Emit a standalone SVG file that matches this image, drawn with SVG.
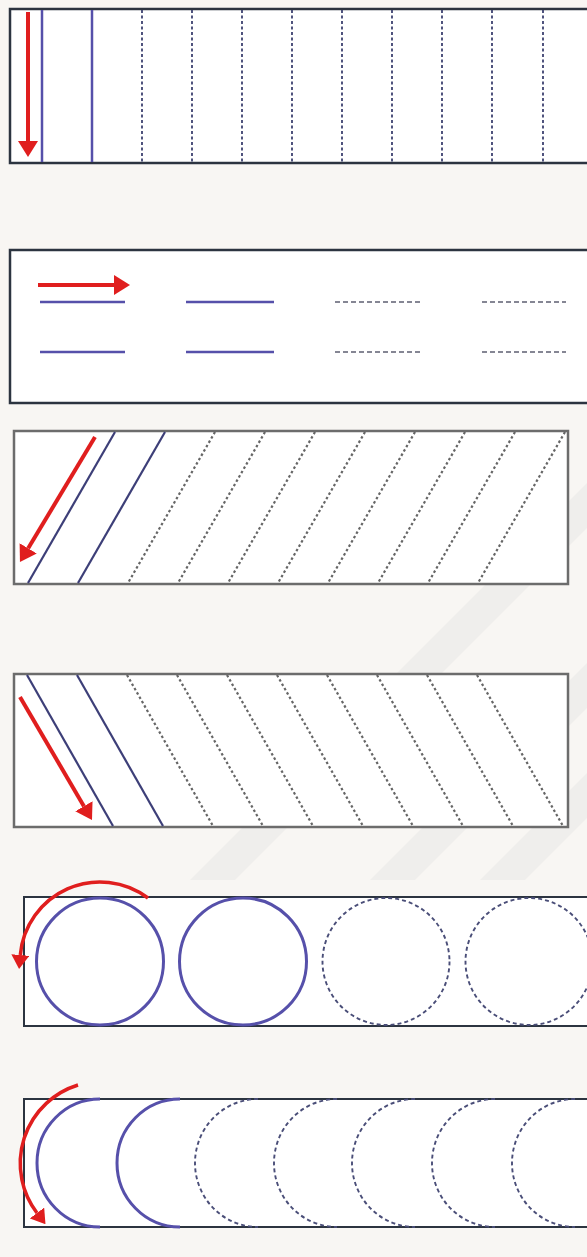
<svg xmlns="http://www.w3.org/2000/svg" width="587" height="1257" viewBox="0 0 587 1257">
<style>
.bg{fill:#f8f6f3}
.wm{fill:#efeeec}
.box{fill:#ffffff;stroke:#2c3440;stroke-width:2.5}
.box2{fill:#ffffff;stroke:#6c6c6c;stroke-width:2.5}
.box3{fill:#ffffff;stroke:#2c3440;stroke-width:2}
.solid{stroke:#5650aa;stroke-width:2.5;fill:none}
.dash1{stroke:#3d4270;stroke-width:1.8;stroke-dasharray:3 2.5;fill:none}
.dash2{stroke:#5e5f72;stroke-width:1.6;stroke-dasharray:5 3;fill:none}
.diag{stroke:#3d3f78;stroke-width:2.2;fill:none}
.dot{stroke:#666666;stroke-width:2.2;stroke-dasharray:2.5 2.5;fill:none}
.dash3{stroke:#4a4e78;stroke-width:1.9;stroke-dasharray:4 3;fill:none}
.solidc{stroke:#5650aa;stroke-width:3;fill:none}
.red{stroke:#e01e1e;stroke-width:4;fill:none;marker-end:url(#ah)}
.redc{stroke:#e01e1e;stroke-width:3.5;fill:none;marker-end:url(#ah2)}
</style>
<defs>
<marker id="ah" markerUnits="userSpaceOnUse" markerWidth="16" markerHeight="20" viewBox="0 0 16 20" refX="0" refY="10" orient="auto">
<path d="M0,0 L16,10 L0,20 z" fill="#e01e1e"/>
</marker>
<marker id="ah2" markerUnits="userSpaceOnUse" markerWidth="14" markerHeight="18" viewBox="0 0 14 18" refX="0" refY="9" orient="auto">
<path d="M0,0 L14,9 L0,18 z" fill="#e01e1e"/>
</marker>
</defs>
<rect class="bg" x="0" y="0" width="587" height="1257"/>
<g id="watermark">
<polygon class="wm" points="190,880 235,880 587,528 587,483"/>
<polygon class="wm" points="370,880 415,880 587,708 587,663"/>
<polygon class="wm" points="480,880 525,880 587,818 587,773"/>
</g>

<g id="panel1">
<rect class="box" x="10" y="9" width="600" height="154"/>
<line class="solid" x1="42" y1="10" x2="42" y2="162"/>
<line class="solid" x1="92" y1="10" x2="92" y2="162"/>
<g class="dash1">
<line x1="142" y1="10" x2="142" y2="162"/>
<line x1="192" y1="10" x2="192" y2="162"/>
<line x1="242" y1="10" x2="242" y2="162"/>
<line x1="292" y1="10" x2="292" y2="162"/>
<line x1="342" y1="10" x2="342" y2="162"/>
<line x1="392" y1="10" x2="392" y2="162"/>
<line x1="442" y1="10" x2="442" y2="162"/>
<line x1="492" y1="10" x2="492" y2="162"/>
<line x1="543" y1="10" x2="543" y2="162"/>
</g>
</g>

<g id="panel2">
<rect class="box" x="10" y="250" width="600" height="153"/>
<line class="solid" x1="40" y1="302" x2="125" y2="302"/>
<line class="solid" x1="186" y1="302" x2="274" y2="302"/>
<line class="solid" x1="40" y1="352" x2="125" y2="352"/>
<line class="solid" x1="186" y1="352" x2="274" y2="352"/>
<line class="dash2" x1="335" y1="302" x2="420" y2="302"/>
<line class="dash2" x1="482" y1="302" x2="566" y2="302"/>
<line class="dash2" x1="335" y1="352" x2="420" y2="352"/>
<line class="dash2" x1="482" y1="352" x2="566" y2="352"/>
</g>

<g id="panel3">
<rect class="box2" x="14" y="431" width="554" height="153"/>
<line class="diag" x1="115" y1="432" x2="28" y2="583"/>
<line class="diag" x1="165" y1="432" x2="78" y2="583"/>
<g class="dot">
<line x1="215" y1="432" x2="128" y2="583"/>
<line x1="265" y1="432" x2="178" y2="583"/>
<line x1="315" y1="432" x2="228" y2="583"/>
<line x1="365" y1="432" x2="278" y2="583"/>
<line x1="415" y1="432" x2="328" y2="583"/>
<line x1="465" y1="432" x2="378" y2="583"/>
<line x1="515" y1="432" x2="428" y2="583"/>
<line x1="565" y1="432" x2="478" y2="583"/>
</g>
</g>

<g id="panel4">
<rect class="box2" x="14" y="674" width="554" height="153"/>
<line class="diag" x1="27" y1="675" x2="113" y2="826"/>
<line class="diag" x1="77" y1="675" x2="163" y2="826"/>
<g class="dot">
<line x1="127" y1="675" x2="213" y2="826"/>
<line x1="177" y1="675" x2="263" y2="826"/>
<line x1="227" y1="675" x2="313" y2="826"/>
<line x1="277" y1="675" x2="363" y2="826"/>
<line x1="327" y1="675" x2="413" y2="826"/>
<line x1="377" y1="675" x2="463" y2="826"/>
<line x1="427" y1="675" x2="513" y2="826"/>
<line x1="477" y1="675" x2="563" y2="826"/>
</g>
</g>

<g id="panel5">
<rect class="box3" x="24" y="897" width="600" height="129"/>
<circle class="solidc" cx="100" cy="961.5" r="63.5"/>
<circle class="solidc" cx="243" cy="961.5" r="63.5"/>
<circle class="dash3" cx="386" cy="961.5" r="63.5"/>
<circle class="dash3" cx="529" cy="961.5" r="63.5"/>
</g>

<g id="panel6">
<rect class="box3" x="24" y="1099" width="600" height="128"/>
<path class="solidc" d="M100,1099 A63,64 0 0 0 100,1227"/>
<path class="solidc" d="M180,1099 A63,64 0 0 0 180,1227"/>
<path class="dash3" d="M258,1099 A63,64 0 0 0 258,1227"/>
<path class="dash3" d="M337,1099 A63,64 0 0 0 337,1227"/>
<path class="dash3" d="M415,1099 A63,64 0 0 0 415,1227"/>
<path class="dash3" d="M495,1099 A63,64 0 0 0 495,1227"/>
<path class="dash3" d="M575,1099 A63,64 0 0 0 575,1227"/>
</g>

<g id="connectors">
<line class="red" x1="28" y1="12" x2="28" y2="141"/>
<line class="red" x1="38" y1="285" x2="114" y2="285"/>
<line class="red" x1="95" y1="437" x2="28.2" y2="548.3"/>
<line class="red" x1="20" y1="697" x2="83.9" y2="806.2"/>
<path class="redc" d="M148,898 A80,80 0 0 0 20.3,955"/>
<path class="redc" d="M78,1085 A82,82 0 0 0 37,1213"/>
</g>
</svg>
